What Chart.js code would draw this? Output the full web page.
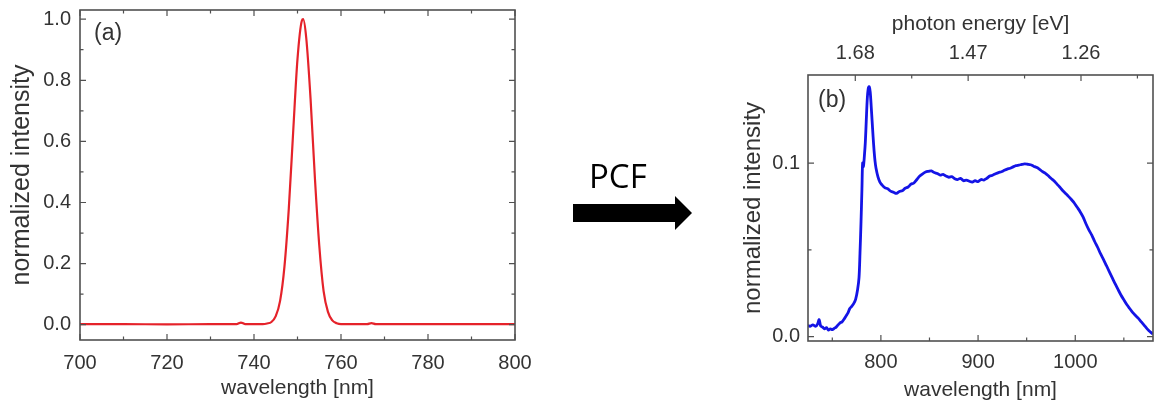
<!DOCTYPE html>
<html>
<head>
<meta charset="utf-8">
<script src="https://cdn.jsdelivr.net/npm/chart.js@4.4.1/dist/chart.umd.min.js"></script>
<style>
  html, body { margin: 0; padding: 0; background: #fff; }
  #wrap { position: relative; width: 1155px; height: 406px; overflow: hidden; background: #fff; }
  #ca { position: absolute; left: 0; top: 0; }
  #cb { position: absolute; left: 700px; top: 0; }
  #deco { position: absolute; left: 0; top: 0; }
</style>
</head>
<body>
<div id="wrap">
  <canvas id="ca" width="540" height="406" style="width:540px;height:406px"></canvas>
  <canvas id="cb" width="455" height="406" style="width:455px;height:406px"></canvas>
  <svg id="deco" width="1155" height="406" viewBox="0 0 1155 406">
    <text x="589" y="188" font-family="Open Sans" font-size="33" fill="#000">PCF</text>
    <polygon points="573,204 675,204 675,196 692,213 675,230 675,222 573,222" fill="#000"/>
  </svg>
</div>
<script>
// ---------- data: panel (a) input pulse ----------
const wavelengthA = [700, 710, 720, 730, 736, 737, 738, 742, 743, 744, 745, 746, 747, 748, 749, 750, 751, 751.3, 752, 753, 754, 755, 756, 757, 758, 759, 760, 766, 767, 768, 770, 780, 790, 800];
const intensityA  = [0.002, 0.002, 0.001, 0.002, 0.002, 0.007, 0.002, 0.002, 0.004, 0.009, 0.028, 0.078, 0.19, 0.38, 0.63, 0.87, 0.995, 1.0, 0.94, 0.74, 0.48, 0.26, 0.11, 0.042, 0.014, 0.005, 0.002, 0.002, 0.005, 0.002, 0.002, 0.002, 0.002, 0.002];
const xTicksA = [700, 720, 740, 760, 780, 800];
const xMinorA = [710, 730, 750, 770, 790];
const yTicksA = [0.0, 0.2, 0.4, 0.6, 0.8, 1.0];
const yMinorA = [0.1, 0.3, 0.5, 0.7, 0.9];

// ---------- data: panel (b) supercontinuum after PCF ----------
const wavelengthB = [725, 727, 730, 733, 735, 736.5, 738, 740, 742, 744, 746, 748, 750, 752, 754, 756, 758, 760, 762, 764, 766, 768, 770, 772, 774, 776, 777.5, 778.5, 779.5, 780.5, 781.2, 782, 783, 784, 785, 786, 787, 788, 789, 790, 791, 792, 793, 794, 795, 797, 799, 801, 804, 807, 810, 813, 816, 819, 822, 825, 828, 831, 834, 837, 840, 843, 846, 849, 852, 855, 858, 861, 864, 867, 870, 873, 876, 879, 882, 885, 888, 891, 894, 897, 900, 903, 906, 909, 912, 915, 918, 921, 924, 927, 930, 933, 936, 939, 942, 945, 948, 951, 954, 957, 960, 963, 966, 969, 972, 975, 978, 981, 984, 987, 990, 993, 996, 999, 1002, 1005, 1008, 1011, 1014, 1017, 1020, 1023, 1026, 1029, 1032, 1035, 1038, 1041, 1044, 1047, 1050, 1053, 1056, 1059, 1062, 1065, 1068, 1071, 1074, 1077, 1080];
const intensityB = [0.0065, 0.006, 0.0068, 0.006, 0.0075, 0.0098, 0.0062, 0.0055, 0.0045, 0.0052, 0.0038, 0.0045, 0.004, 0.0048, 0.0055, 0.0068, 0.008, 0.0085, 0.01, 0.0118, 0.0135, 0.0162, 0.0175, 0.019, 0.0215, 0.027, 0.034, 0.048, 0.065, 0.085, 0.1, 0.098, 0.104, 0.112, 0.125, 0.137, 0.143, 0.144, 0.141, 0.133, 0.124, 0.115, 0.107, 0.101, 0.097, 0.092, 0.089, 0.0875, 0.0858, 0.0852, 0.0838, 0.0832, 0.0825, 0.0836, 0.084, 0.0855, 0.0862, 0.0878, 0.0885, 0.0905, 0.0925, 0.0938, 0.0948, 0.0952, 0.0955, 0.0945, 0.094, 0.093, 0.0935, 0.0925, 0.0918, 0.0922, 0.091, 0.0905, 0.0912, 0.0898, 0.0902, 0.0895, 0.089, 0.0898, 0.0893, 0.0905, 0.0902, 0.0912, 0.0925, 0.093, 0.0938, 0.0945, 0.095, 0.0958, 0.0965, 0.097, 0.0978, 0.0985, 0.0988, 0.0992, 0.0995, 0.0993, 0.099, 0.0982, 0.0975, 0.0965, 0.0952, 0.0942, 0.0928, 0.0912, 0.0898, 0.088, 0.0862, 0.0842, 0.0825, 0.0808, 0.079, 0.077, 0.0745, 0.072, 0.069, 0.065, 0.0615, 0.0585, 0.0548, 0.0515, 0.0478, 0.0445, 0.041, 0.0375, 0.034, 0.0305, 0.0272, 0.024, 0.0212, 0.0185, 0.0162, 0.014, 0.0122, 0.0105, 0.0085, 0.0065, 0.0045, 0.0028, 0.0015];
const xTicksB = [800, 900, 1000];
const xMinorB = [750, 850, 950, 1050];
const yTicksB = [0.0, 0.1];
const yMinorB = [0.05];
const eTicksB = [1.68, 1.47, 1.26];      // photon energy [eV], top axis
const eMinorB = [1.575, 1.365, 1.155];

// ---------- styling ----------
const FONT = 'Liberation Sans, Arial, sans-serif';
const TXT = '#333333';

const frameTicks = {
  id: 'frameTicks',
  afterDatasetsDraw(chart, args, opts) {
    const ctx = chart.ctx, a = chart.chartArea;
    ctx.save();
    ctx.strokeStyle = '#505050';
    ctx.lineWidth = 1.2;
    ctx.beginPath();
    for (const spec of opts.marks) {
      const s = chart.scales[spec.scale];
      for (const [vals, len] of [[spec.major, 6], [spec.minor, 3.5]]) {
        for (const v of vals) {
          const p = s.getPixelForValue(v);
          for (const side of spec.sides) {
            if (side === 'bottom') { ctx.moveTo(p, a.bottom); ctx.lineTo(p, a.bottom - len); }
            if (side === 'top')    { ctx.moveTo(p, a.top);    ctx.lineTo(p, a.top + len); }
            if (side === 'left')   { ctx.moveTo(a.left, p);   ctx.lineTo(a.left + len, p); }
            if (side === 'right')  { ctx.moveTo(a.right, p);  ctx.lineTo(a.right - len, p); }
          }
        }
      }
    }
    ctx.stroke();
    ctx.lineWidth = 1.6;
    ctx.strokeRect(a.left, a.top, a.right - a.left, a.bottom - a.top);
    ctx.fillStyle = TXT;
    ctx.font = '23px ' + FONT;
    ctx.textBaseline = 'middle';
    ctx.textAlign = 'left';
    ctx.fillText(opts.label, a.left + opts.lx, a.top + opts.ly);
    ctx.restore();
  }
};

function setTicks(arr) { return s => { s.ticks = arr.map(v => ({ value: v })); }; }
function fixW(w) { return s => { s.width = w; s.paddingTop = 0; s.paddingBottom = 0; s.paddingLeft = 0; s.paddingRight = 0; }; }
function fixH(h) { return s => { s.height = h; s.paddingTop = 0; s.paddingBottom = 0; s.paddingLeft = 0; s.paddingRight = 0; }; }
const noGrid = { display: false, drawTicks: false };

// ---------- panel (a) ----------
new Chart(document.getElementById('ca'), {
  type: 'line',
  data: {
    datasets: [{
      data: wavelengthA.map((x, i) => ({ x: x, y: intensityA[i] })),
      borderColor: '#e5222a',
      borderWidth: 2.2,
      pointRadius: 0,
      cubicInterpolationMode: 'monotone',
      fill: false
    }]
  },
  options: {
    responsive: false, animation: false, devicePixelRatio: 1, events: [],
    layout: { padding: { left: 0, right: 25, top: 10, bottom: 0 } },
    plugins: {
      legend: { display: false }, tooltip: { enabled: false },
      frameTicks: {
        label: '(a)', lx: 14, ly: 24,
        marks: [
          { scale: 'x', major: xTicksA, minor: xMinorA, sides: ['bottom', 'top'] },
          { scale: 'y', major: yTicksA, minor: yMinorA, sides: ['left', 'right'] }
        ]
      }
    },
    scales: {
      x: {
        type: 'linear', min: 700, max: 800,
        afterBuildTicks: setTicks(xTicksA), afterFit: fixH(66),
        grid: noGrid, border: { display: false },
        ticks: { font: { family: FONT, size: 20 }, color: TXT, padding: 11, maxRotation: 0, autoSkip: false, callback: v => String(v) },
        title: { display: true, text: 'wavelength [nm]', font: { family: FONT, size: 21 }, color: TXT, padding: { top: 0, bottom: 5 } }
      },
      y: {
        type: 'linear', min: -0.05, max: 1.03,
        afterBuildTicks: setTicks(yTicksA), afterFit: fixW(80),
        grid: noGrid, border: { display: false },
        ticks: { font: { family: FONT, size: 20 }, color: TXT, padding: 9, autoSkip: false, callback: v => v.toFixed(1) },
        title: { display: true, text: 'normalized intensity', font: { family: FONT, size: 25 }, color: TXT, padding: { top: 7, bottom: 0 } }
      }
    }
  },
  plugins: [frameTicks]
});

// ---------- panel (b) ----------
new Chart(document.getElementById('cb'), {
  type: 'line',
  data: {
    datasets: [{
      data: wavelengthB.map((x, i) => ({ x: x, y: intensityB[i] })),
      borderColor: '#1414e6',
      borderWidth: 2.8,
      pointRadius: 0,
      tension: 0.3,
      fill: false
    }]
  },
  options: {
    responsive: false, animation: false, devicePixelRatio: 1, events: [],
    layout: { padding: { left: 0, right: 2, top: 0, bottom: 0 } },
    plugins: {
      legend: { display: false }, tooltip: { enabled: false },
      frameTicks: {
        label: '(b)', lx: 10, ly: 26,
        marks: [
          { scale: 'x', major: xTicksB, minor: xMinorB, sides: ['bottom'] },
          { scale: 'x2', major: eTicksB, minor: eMinorB, sides: ['top'] },
          { scale: 'y', major: yTicksB, minor: yMinorB, sides: ['left', 'right'] }
        ]
      }
    },
    scales: {
      x: {
        type: 'linear', position: 'bottom', min: 725, max: 1080,
        afterBuildTicks: setTicks(xTicksB), afterFit: fixH(65),
        grid: noGrid, border: { display: false },
        ticks: { font: { family: FONT, size: 20 }, color: TXT, padding: 9, maxRotation: 0, autoSkip: false, callback: v => String(v) },
        title: { display: true, text: 'wavelength [nm]', font: { family: FONT, size: 21 }, color: TXT, padding: { top: 0, bottom: 3 } }
      },
      x2: {
        type: 'linear', position: 'top', axis: 'x', min: 1.126, max: 1.768, reverse: true,
        afterBuildTicks: setTicks(eTicksB), afterFit: fixH(75),
        grid: noGrid, border: { display: false },
        ticks: { font: { family: FONT, size: 20 }, color: TXT, padding: 10, maxRotation: 0, autoSkip: false, callback: v => v.toFixed(2) },
        title: { display: true, text: 'photon energy [eV]', font: { family: FONT, size: 21 }, color: TXT, padding: { top: 12, bottom: 0 } }
      },
      y: {
        type: 'linear', min: -0.0025, max: 0.1507,
        afterBuildTicks: setTicks(yTicksB), afterFit: fixW(108),
        grid: noGrid, border: { display: false },
        ticks: { font: { family: FONT, size: 20 }, color: TXT, padding: 8, autoSkip: false, callback: v => v.toFixed(1) },
        title: { display: true, text: 'normalized intensity', font: { family: FONT, size: 24 }, color: TXT, padding: { top: 39, bottom: 0 } }
      }
    }
  },
  plugins: [frameTicks]
});
</script>
</body>
</html>
